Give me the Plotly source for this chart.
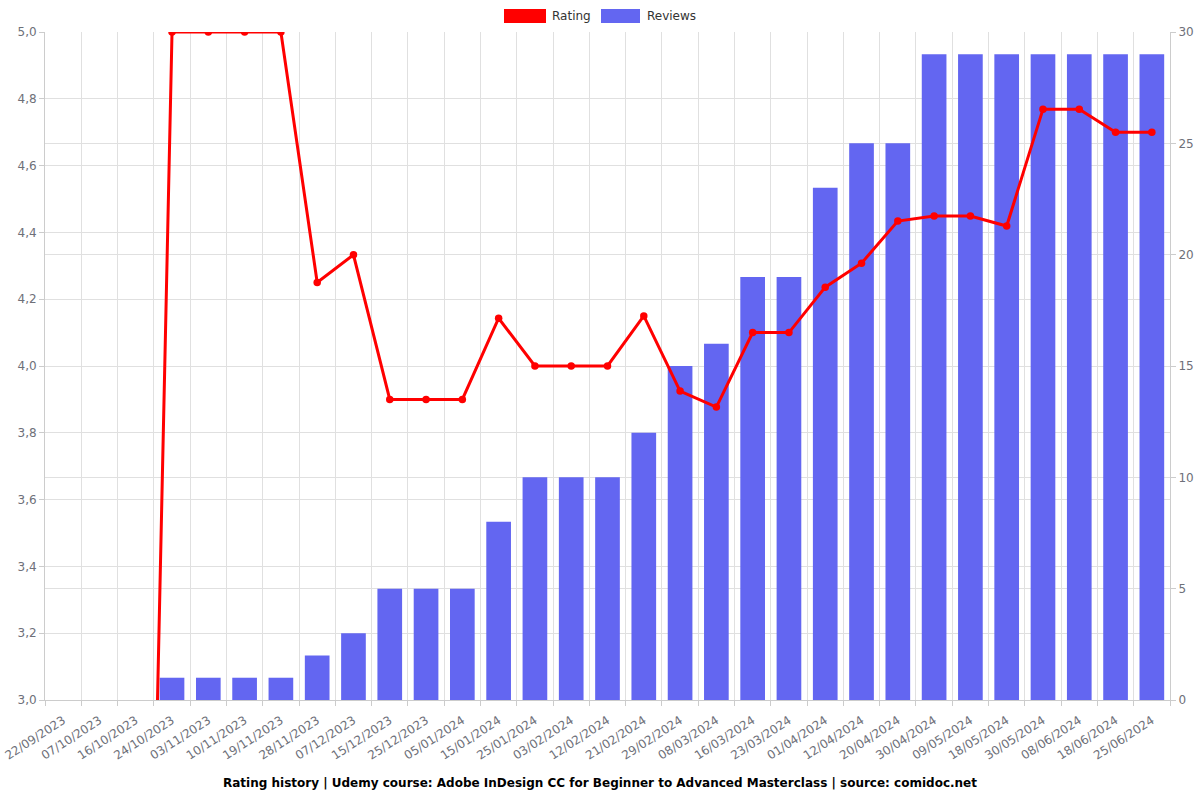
import plotly.graph_objects as go

dates = ["22/09/2023", "07/10/2023", "16/10/2023", "24/10/2023", "03/11/2023", "10/11/2023",
         "19/11/2023", "28/11/2023", "07/12/2023", "15/12/2023", "25/12/2023", "05/01/2024",
         "15/01/2024", "25/01/2024", "03/02/2024", "12/02/2024", "21/02/2024", "29/02/2024",
         "08/03/2024", "16/03/2024", "23/03/2024", "01/04/2024", "12/04/2024", "20/04/2024",
         "30/04/2024", "09/05/2024", "18/05/2024", "30/05/2024", "08/06/2024", "18/06/2024",
         "25/06/2024"]
rating = [0, 0, 0, 5.0, 5.0, 5.0, 5.0, 4.25, 4.333, 3.9, 3.9, 3.9, 4.143, 4.0, 4.0, 4.0,
          4.15, 3.925, 3.877, 4.1, 4.1, 4.236, 4.308, 4.434, 4.449, 4.449, 4.419, 4.769,
          4.769, 4.70, 4.70]
reviews = [0, 0, 0, 1, 1, 1, 1, 2, 3, 5, 5, 5, 8, 10, 10, 10, 12, 15, 16, 19, 19, 23, 25,
           25, 29, 29, 29, 29, 29, 29, 29]

title = "Rating history | Udemy course: Adobe InDesign CC for Beginner to Advanced Masterclass | source: comidoc.net"

RED = "#ff0000"
BLUE = "#6366f1"
GRID = "#e0e0e0"
AXIS = "#cccccc"
TXT = "#6e7079"
FONT = "DejaVu Sans"

# plot area in pixels: x 45..1170, y 32..700
PW, PH = 1125, 668


def px(x):
    return (x - 45) / PW


def py(y):
    return (700 - y) / PH


fig = go.Figure()
fig.add_trace(go.Bar(x=dates, y=reviews, name="Reviews", yaxis="y",
                     marker=dict(color=BLUE, line=dict(width=0)),
                     showlegend=False))
fig.add_trace(go.Scatter(x=dates, y=rating, name="Rating", yaxis="y2", mode="lines+markers",
                         line=dict(color=RED, width=3), marker=dict(color=RED, size=7.5),
                         showlegend=False))

fig.update_layout(
    width=1200, height=800,
    margin=dict(l=45, r=30, t=32, b=100),
    paper_bgcolor="white", plot_bgcolor="white",
    separators=",.",
    font=dict(family=FONT, size=12, color=TXT),
    bargap=0.32,
    xaxis=dict(type="category", tickson="boundaries", showgrid=True, gridcolor=GRID,
               tickangle=-33, ticks="outside", ticklen=5, tickcolor=AXIS,
               showline=True, linecolor=AXIS, tickfont=dict(size=12, color=TXT),
               ticklabelstandoff=8,
               range=[-0.5, len(dates) - 0.5], automargin=False),
    yaxis=dict(side="right", range=[0, 30], dtick=5, showgrid=True, gridcolor=GRID,
               ticks="outside", ticklen=5, tickcolor=AXIS, showline=True, linecolor=AXIS,
               zeroline=False, tickfont=dict(size=12, color=TXT), automargin=False),
    yaxis2=dict(side="left", overlaying="y", range=[3, 5], dtick=0.2, tickformat=".1f",
                showgrid=True, gridcolor=GRID, ticks="outside", ticklen=5, tickcolor=AXIS,
                showline=True, linecolor=AXIS, zeroline=False,
                tickfont=dict(size=12, color=TXT), automargin=False),
    shapes=[
        dict(type="rect", xref="paper", yref="paper", x0=px(504), x1=px(546),
             y0=py(23), y1=py(9), fillcolor=RED, line=dict(width=0)),
        dict(type="rect", xref="paper", yref="paper", x0=px(601), x1=px(640),
             y0=py(23), y1=py(9), fillcolor=BLUE, line=dict(width=0)),
    ],
    annotations=[
        dict(text="Rating", xref="paper", yref="paper", x=px(550), y=py(16),
             xanchor="left", yanchor="middle", showarrow=False,
             font=dict(size=12, color="#333333")),
        dict(text="Reviews", xref="paper", yref="paper", x=px(645), y=py(16),
             xanchor="left", yanchor="middle", showarrow=False,
             font=dict(size=12, color="#333333")),
        dict(text="<b>" + title + "</b>", xref="paper", yref="paper", x=px(600),
             y=py(783), xanchor="center", yanchor="middle", showarrow=False,
             font=dict(size=12, color="#000000")),
    ],
)

fig.write_html("out.html")
